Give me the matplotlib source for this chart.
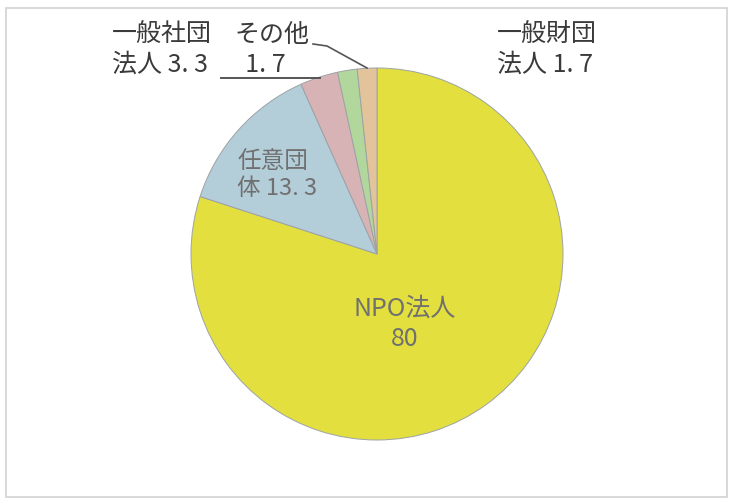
import matplotlib
matplotlib.use("Agg")
import matplotlib.pyplot as plt
from matplotlib.patches import Rectangle

plt.rcParams['font.family'] = ['Noto Sans CJK JP', 'DejaVu Sans']

categories = ["NPO法人", "任意団体", "一般社団法人", "その他", "一般財団法人"]
values = [80, 13.3, 3.3, 1.7, 1.7]
colors = ["#e2df3f", "#b3cdd9", "#d8b3b6", "#b2d79c", "#e2c39a"]

def fmt(v):
    return f"{v:g}".replace(".", ". ")

W, H = 731, 500
fig = plt.figure(figsize=(W / 100, H / 100), dpi=100)
ax = fig.add_axes([0, 0, 1, 1])

cx, cy, r = 377, H - 254, 186
ax.pie(values, colors=colors, startangle=90, counterclock=False,
       center=(cx, cy), radius=r, frame=True,
       wedgeprops=dict(edgecolor="#9da3a6", linewidth=0.7))
ax.set_xlim(0, W)
ax.set_ylim(0, H)
ax.set_aspect('equal')
ax.axis('off')

# frame
ax.add_patch(Rectangle((6, 3), 721, 489, fill=False, edgecolor="#d2d2d2", linewidth=1.2))

inner = "#707070"
outer = "#3a3a3a"

ax.text(405, H - 324, f"{categories[0]}\n{fmt(values[0])}", ha='center', va='center',
        fontsize=18, color=inner, linespacing=1.2)
ax.text(237, H - 175, "任意団\n体 " + fmt(values[1]), ha='left', va='center',
        fontsize=17, color=inner, linespacing=1.2)
ax.text(112, H - 50, "一般社団\n法人 " + fmt(values[2]), ha='left', va='center',
        fontsize=18, color=outer, linespacing=1.2)
ax.text(234, H - 50, categories[3] + "\n  " + fmt(values[3]), ha='left', va='center',
        fontsize=18, color=outer, linespacing=1.2)
ax.text(497, H - 50, "一般財団\n法人 " + fmt(values[4]), ha='left', va='center',
        fontsize=18, color=outer, linespacing=1.2)

# leader lines
ax.plot([221, 320], [H - 78, H - 78], color="#555555", linewidth=1.4)
ax.plot([313, 327, 367], [H - 44, H - 46, H - 68], color="#555555", linewidth=1.2)

fig.savefig("out.png", dpi=100)
